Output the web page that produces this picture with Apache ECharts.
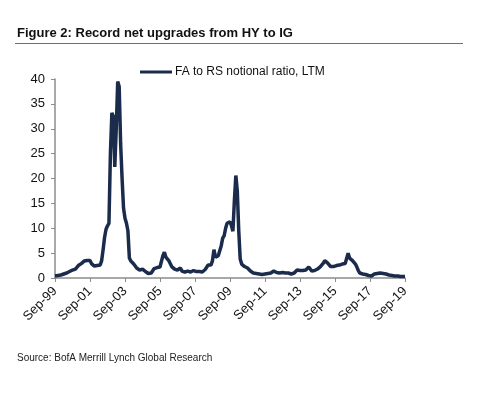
<!DOCTYPE html>
<html>
<head>
<meta charset="utf-8">
<script src="https://cdn.jsdelivr.net/npm/echarts@6/dist/echarts.min.js"></script>
<style>
html,body{margin:0;padding:0;background:#fff;}
#chart{width:483px;height:393px;}
</style>
</head>
<body>
<div id="chart"></div>
<script>
// Monthly data Sep-99 .. Sep-19
var startYear = 1999, startMonth = 8; // September (0-based)
var monthNames = ['Jan','Feb','Mar','Apr','May','Jun','Jul','Aug','Sep','Oct','Nov','Dec'];
var seriesName = 'FA to RS notional ratio, LTM';
var ratio = [
  0.4,0.4,0.5,0.5,0.6,0.7,0.8,0.9,1.0,1.2,
  1.3,1.5,1.6,1.5,1.8,2.2,2.5,2.7,2.9,3.1,
  3.4,3.7,3.5,3.1,3.5,2.9,2.6,2.4,2.3,2.5,
  2.4,2.6,3.5,5.7,8.2,9.8,10.5,11.0,25.0,33.2,
  32.5,22.3,30.0,39.5,38.5,27.0,20.0,14.0,12.0,11.0,
  9.5,4.0,3.4,3.3,2.8,2.5,2.0,1.8,1.6,1.9,
  1.8,1.5,1.3,1.0,0.9,0.9,1.0,1.3,1.9,2.2,
  2.1,2.3,2.2,2.4,4.5,5.2,4.2,3.8,3.5,3.2,
  2.3,2.0,1.8,1.7,1.6,1.7,2.0,1.4,1.3,1.2,
  1.3,1.4,1.3,1.2,1.4,1.5,1.4,1.3,1.2,1.3,
  1.3,1.2,1.5,1.7,2.0,2.6,2.5,2.6,3.5,5.7,
  4.2,4.0,4.5,4.9,6.5,8.0,8.5,10.0,11.0,11.4,
  11.3,10.5,9.4,15.5,20.6,17.5,9.5,3.8,2.8,2.4,
  2.3,2.2,2.0,1.7,1.4,1.1,1.0,0.9,0.9,0.8,
  0.8,0.8,0.7,0.7,0.8,0.8,0.9,1.0,1.0,1.2,
  1.4,1.3,1.1,1.0,1.0,1.0,1.1,1.0,1.0,1.1,
  1.0,1.0,0.8,0.7,1.0,1.4,1.6,1.6,1.5,1.6,
  1.5,1.5,1.6,1.9,2.2,1.9,1.4,1.3,1.5,1.6,
  1.8,2.0,2.3,2.6,3.0,3.5,3.3,3.0,2.6,2.3,
  2.2,2.3,2.4,2.5,2.5,2.6,2.7,2.8,2.7,2.9,
  3.0,5.0,4.0,3.6,3.5,3.3,2.8,2.2,1.5,1.0,
  0.9,0.8,0.8,0.7,0.6,0.5,0.5,0.4,0.6,0.8,
  0.8,0.9,0.9,1.0,1.0,0.9,0.9,0.8,0.7,0.6,
  0.5,0.5,0.4,0.4,0.4,0.4,0.3,0.3,0.3,0.3,
  0.3
];
var yTicks = [0,5,10,15,20,25,30,35,40];

var categories = ratio.map(function(_, i){
  var m = (startMonth + i) % 12;
  var y = startYear + Math.floor((startMonth + i) / 12);
  return monthNames[m] + '-' + String(y % 100).padStart(2,'0');
});

var chart = echarts.init(document.getElementById('chart'));
var axisColor = '#8c8c8c';
var font = '"Liberation Sans", Arial, sans-serif';
chart.setOption({
  animation: false,
  backgroundColor: '#fff',
  title: {
    text: 'Figure 2: Record net upgrades from HY to IG',
    left: 12, top: 22,
    textStyle: { fontFamily: font, fontWeight: 'bold', fontSize: 13, color: '#111' }
  },
  graphic: [
    { type: 'line', shape: { x1: 15, y1: 43.5, x2: 463, y2: 43.5 },
      style: { stroke: '#5d7389', lineWidth: 1 } },
    { type: 'text', left: 17, top: 353,
      style: { text: 'Source: BofA Merrill Lynch Global Research', fontFamily: font, fontSize: 10, fill: '#222' } }
  ],
  legend: {
    data: [{ name: seriesName, icon: 'rect' }],
    left: 135, top: 61,
    itemWidth: 32, itemHeight: 3, itemGap: 4,
    textStyle: { fontFamily: font, fontSize: 12, color: '#111', padding: [0,0,0,-2] }
  },
  grid: { left: 55, right: 78, top: 79, bottom: 115, containLabel: false },
  xAxis: {
    type: 'category',
    data: categories,
    boundaryGap: false,
    axisLine: { lineStyle: { color: axisColor, width: 1.5 } },
    axisTick: { interval: 23, length: 4, lineStyle: { color: axisColor } },
    axisLabel: { interval: 23, rotate: 45, fontFamily: font, fontSize: 13, color: '#111', margin: 11 },
    splitLine: { show: false }
  },
  yAxis: {
    type: 'value',
    min: yTicks[0], max: yTicks[yTicks.length-1], interval: 5,
    axisLine: { show: true, lineStyle: { color: axisColor, width: 1.5 } },
    axisTick: { show: true, length: 4, lineStyle: { color: axisColor } },
    axisLabel: { fontFamily: font, fontSize: 13, color: '#111', margin: 10 },
    splitLine: { show: false }
  },
  series: [{
    name: seriesName,
    type: 'line',
    data: ratio,
    showSymbol: false,
    symbol: 'none',
    lineStyle: { color: '#1b2b4b', width: 3.5 },
    itemStyle: { color: '#1b2b4b' }
  }]
});
</script>
</body>
</html>
